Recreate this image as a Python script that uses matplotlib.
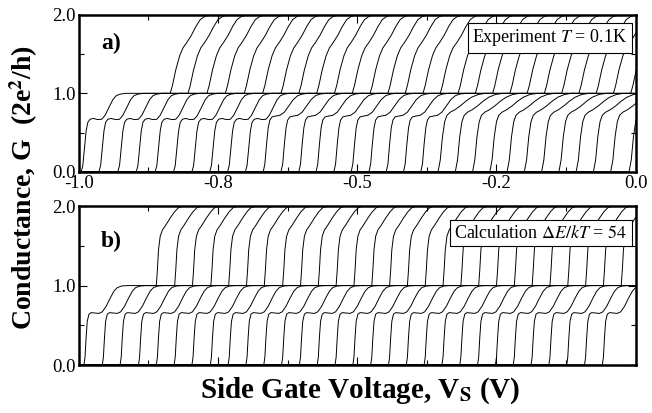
import matplotlib.pyplot as plt
from matplotlib.ticker import MultipleLocator, FormatStrFormatter

plt.rcParams['font.family'] = ['Liberation Serif', 'DejaVu Serif']
plt.rcParams['mathtext.fontset'] = 'stix'

# Data: start voltage (V) of each trace
starts_a = [-0.996, -0.964, -0.930, -0.897, -0.863, -0.830, -0.797, -0.765,
            -0.733, -0.701, -0.669, -0.637, -0.605, -0.574, -0.542, -0.511,
            -0.479, -0.448, -0.417, -0.386, -0.355, -0.324, -0.293, -0.262,
            -0.231, -0.200, -0.169, -0.138, -0.107, -0.076, -0.045, -0.012]
# which step shape each trace of panel a follows (0 = early, 1 = mid, 2 = late)
shape_a = [0] * 10 + [1] * 10 + [2] * 12

starts_b = [-0.991, -0.958, -0.926, -0.893, -0.861, -0.829, -0.797, -0.764,
            -0.732, -0.700, -0.668, -0.636, -0.604, -0.572, -0.540, -0.508,
            -0.476, -0.444, -0.412, -0.380, -0.348, -0.316, -0.284, -0.252,
            -0.220, -0.188, -0.156, -0.124, -0.092, -0.060]

# step profiles: voltage measured from the trace start, conductance (2e^2/h)
rise_a_early_dv = [-2.0, 0.0, 0.003, 0.006, 0.009, 0.012, 0.016, 0.022, 0.030, 0.037,
                   0.043, 0.050, 0.057, 0.063, 0.070, 0.080]
rise_a_early_g = [0.0, 0.0, 0.08, 0.30, 0.52, 0.63, 0.67, 0.68, 0.665, 0.67,
                  0.72, 0.82, 0.92, 0.97, 0.99, 1.0]
rise_a_mid_dv = [-2.0, 0.0, 0.003, 0.006, 0.009, 0.012, 0.016, 0.022, 0.030, 0.038,
                 0.046, 0.054, 0.062, 0.070, 0.080]
rise_a_mid_g = [0.0, 0.0, 0.10, 0.35, 0.56, 0.66, 0.70, 0.71, 0.72, 0.76,
                0.84, 0.92, 0.97, 0.99, 1.0]
rise_a_late_dv = [-2.0, 0.0, 0.004, 0.008, 0.012, 0.016, 0.022, 0.030, 0.040, 0.050,
                  0.060, 0.072, 0.085]
rise_a_late_g = [0.0, 0.0, 0.15, 0.45, 0.64, 0.72, 0.76, 0.79, 0.84, 0.90,
                 0.95, 0.985, 1.0]
top_a_dv = [0.160, 0.164, 0.170, 0.177, 0.183, 0.190, 0.198, 0.206, 0.214, 0.222, 0.232, 2.0]
top_a_g = [1.0, 1.10, 1.30, 1.48, 1.58, 1.65, 1.74, 1.85, 1.94, 1.98, 2.0, 2.0]

prof_b_dv = [-2.0, 0.0, 0.002, 0.004, 0.006, 0.009, 0.013, 0.020, 0.027, 0.033,
             0.040, 0.047, 0.054, 0.060, 0.068, 0.078,
             0.130, 0.132, 0.134, 0.137, 0.141, 0.147, 0.155, 0.163, 0.170, 0.178, 2.0]
prof_b_g = [0.0, 0.0, 0.10, 0.35, 0.55, 0.64, 0.66, 0.655, 0.65, 0.67,
            0.74, 0.84, 0.93, 0.975, 0.995, 1.0,
            1.0, 1.20, 1.45, 1.62, 1.70, 1.76, 1.85, 1.93, 1.98, 2.0, 2.0]

rises_a = [(rise_a_early_dv, rise_a_early_g),
           (rise_a_mid_dv, rise_a_mid_g),
           (rise_a_late_dv, rise_a_late_g)]

fig = plt.figure(figsize=(6.52, 4.13), dpi=100)
ax_a = fig.add_axes([0.121, 0.584, 0.854, 0.380])
ax_b = fig.add_axes([0.121, 0.116, 0.854, 0.385])

for s, k in zip(starts_a, shape_a):
    dv = rises_a[k][0] + top_a_dv
    g = rises_a[k][1] + top_a_g
    ax_a.plot([s + d for d in dv], g, color='black', lw=0.7)

for s in starts_b:
    ax_b.plot([s + d for d in prof_b_dv], prof_b_g, color='black', lw=0.7)

for ax in (ax_a, ax_b):
    ax.set_xlim(-1.0, 0.0)
    ax.set_ylim(0.0, 2.0)
    ax.xaxis.set_major_locator(MultipleLocator(0.25))
    ax.xaxis.set_minor_locator(MultipleLocator(0.125))
    ax.yaxis.set_major_locator(MultipleLocator(1.0))
    ax.yaxis.set_minor_locator(MultipleLocator(0.5))
    ax.xaxis.set_major_formatter(FormatStrFormatter('%.1f'))
    ax.yaxis.set_major_formatter(FormatStrFormatter('%.1f'))
    ax.tick_params(which='both', direction='in', top=True, right=True, labelsize=13.5, pad=2)
    ax.tick_params(which='major', length=6, width=0.8)
    ax.tick_params(which='minor', length=3.5, width=0.8)
    for sp in ax.spines.values():
        sp.set_linewidth(1.8)

ax_b.tick_params(labelbottom=False)

ax_a.text(0.04, 0.78, 'a)', transform=ax_a.transAxes, fontsize=17, fontweight='bold')
ax_b.text(0.04, 0.74, 'b)', transform=ax_b.transAxes, fontsize=17, fontweight='bold')

box = dict(boxstyle='square,pad=0.25', fc='white', ec='black', lw=0.8)
ax_a.text(0.985, 0.855, r'Experiment $T$ = 0.1K', transform=ax_a.transAxes,
          ha='right', va='center', fontsize=13, bbox=box)
ax_b.text(0.985, 0.83, r'Calculation $\Delta E/kT$ = $\mathit{54}$', transform=ax_b.transAxes,
          ha='right', va='center', fontsize=13, bbox=box)

fig.text(0.036, 0.545, r'Conductance, G  (2e$^{\mathbf{2}}$/h)', rotation=90,
         ha='center', va='center', fontsize=20, fontweight='bold')
fig.text(0.552, 0.055, r'Side Gate Voltage, V$_{\mathbf{S}}$ (V)',
         ha='center', va='center', fontsize=21, fontweight='bold')

fig.savefig('out.png', dpi=100)
